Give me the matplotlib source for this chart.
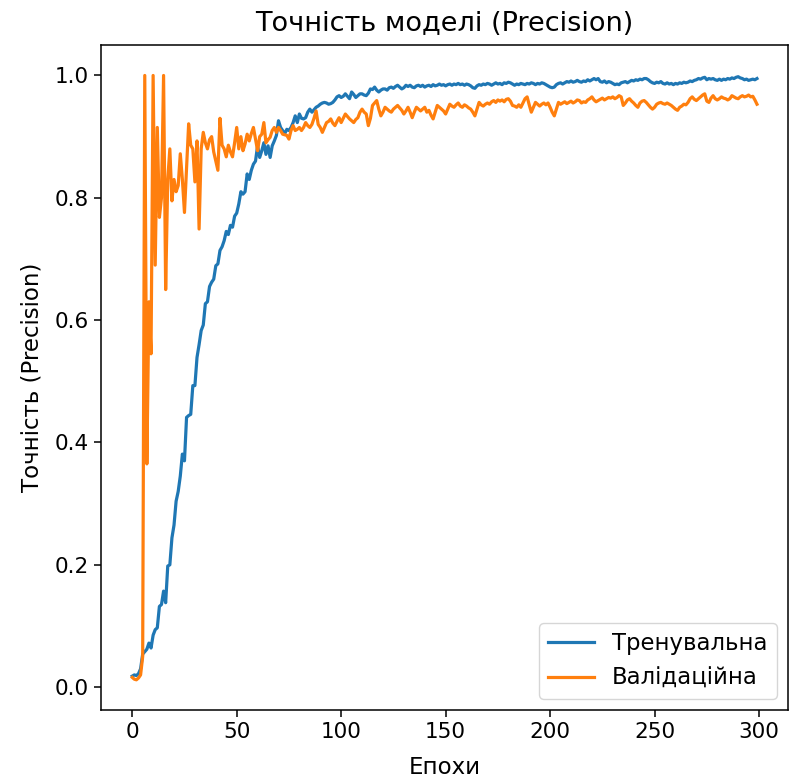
import matplotlib
matplotlib.use("Agg")
import matplotlib.pyplot as plt
import numpy as np

plt.rcParams['font.family'] = ['DejaVu Sans']

title = "Точність моделі (Precision)"
xlabel = "Епохи"
ylabel = "Точність (Precision)"
train_label = "Тренувальна"
val_label = "Валідаційна"

train_precision = [
    0.018, 0.020, 0.019, 0.022, 0.030, 0.054, 0.058, 0.062, 0.072, 0.064,
    0.085, 0.094, 0.097, 0.132, 0.135, 0.157, 0.138, 0.198, 0.200, 0.244,
    0.265, 0.304, 0.320, 0.345, 0.381, 0.370, 0.441, 0.444, 0.446, 0.493,
    0.493, 0.539, 0.560, 0.583, 0.592, 0.627, 0.630, 0.655, 0.662, 0.667,
    0.689, 0.692, 0.714, 0.720, 0.730, 0.745, 0.740, 0.755, 0.752, 0.770,
    0.775, 0.790, 0.810, 0.806, 0.810, 0.839, 0.830, 0.845, 0.855, 0.860,
    0.885, 0.866, 0.877, 0.890, 0.871, 0.885, 0.866, 0.885, 0.893, 0.902,
    0.926, 0.915, 0.910, 0.905, 0.912, 0.910, 0.915, 0.923, 0.934, 0.923,
    0.937, 0.930, 0.929, 0.931, 0.940, 0.945, 0.940, 0.944, 0.948, 0.950,
    0.953, 0.955, 0.956, 0.955, 0.953, 0.954, 0.956, 0.960, 0.965, 0.967,
    0.964, 0.966, 0.970, 0.966, 0.962, 0.973, 0.969, 0.964, 0.967, 0.970,
    0.970, 0.968, 0.967, 0.971, 0.978, 0.977, 0.981, 0.976, 0.973, 0.976,
    0.978, 0.978, 0.976, 0.980, 0.981, 0.979, 0.982, 0.984, 0.981, 0.978,
    0.980, 0.984, 0.982, 0.984, 0.981, 0.980, 0.983, 0.984, 0.982, 0.984,
    0.981, 0.983, 0.984, 0.982, 0.985, 0.983, 0.984, 0.986, 0.984, 0.985,
    0.983, 0.985, 0.986, 0.984, 0.986, 0.985, 0.987, 0.985, 0.986, 0.984,
    0.986, 0.985, 0.983, 0.980, 0.979, 0.983, 0.985, 0.984, 0.986, 0.985,
    0.987, 0.986, 0.984, 0.986, 0.988, 0.986, 0.987, 0.985, 0.988, 0.987,
    0.989, 0.988, 0.986, 0.984, 0.986, 0.985, 0.987, 0.986, 0.985, 0.987,
    0.986, 0.988, 0.987, 0.985, 0.987, 0.986, 0.988, 0.987, 0.985, 0.983,
    0.981, 0.980, 0.981, 0.985, 0.987, 0.988, 0.986, 0.988, 0.990, 0.989,
    0.991, 0.989, 0.990, 0.992, 0.990, 0.989, 0.991, 0.990, 0.993, 0.991,
    0.993, 0.995, 0.993, 0.995, 0.990, 0.989, 0.991, 0.988, 0.990, 0.989,
    0.987, 0.985, 0.986, 0.985, 0.988, 0.989, 0.990, 0.988, 0.990, 0.992,
    0.991, 0.993, 0.992, 0.994, 0.993, 0.995, 0.995, 0.993, 0.990, 0.988,
    0.987, 0.989, 0.988, 0.990, 0.987, 0.986, 0.988, 0.986, 0.987, 0.985,
    0.987, 0.986, 0.988, 0.987, 0.989, 0.988, 0.989, 0.991, 0.990, 0.992,
    0.993, 0.995, 0.994, 0.996, 0.997, 0.993, 0.995, 0.994, 0.995, 0.993,
    0.992, 0.994, 0.992, 0.994, 0.993, 0.995, 0.994, 0.996, 0.995, 0.997,
    0.998, 0.996, 0.995, 0.993, 0.994, 0.992, 0.993, 0.994, 0.993, 0.995,
]

val_precision = [
    0.016, 0.013, 0.012, 0.015, 0.020, 0.050, 1.000, 0.365, 0.630, 0.545,
    1.000, 0.690, 0.915, 0.768, 0.800, 1.000, 0.650, 0.830, 0.880, 0.795,
    0.830, 0.810, 0.820, 0.872, 0.830, 0.776, 0.850, 0.921, 0.886, 0.880,
    0.826, 0.893, 0.749, 0.880, 0.907, 0.890, 0.880, 0.895, 0.900, 0.875,
    0.860, 0.845, 0.930, 0.886, 0.880, 0.867, 0.886, 0.875, 0.867, 0.890,
    0.915, 0.880, 0.900, 0.877, 0.888, 0.904, 0.893, 0.905, 0.915, 0.896,
    0.877, 0.900, 0.904, 0.923, 0.890, 0.895, 0.899, 0.910, 0.915, 0.907,
    0.915, 0.910, 0.904, 0.903, 0.902, 0.896, 0.910, 0.918, 0.910, 0.912,
    0.915, 0.910, 0.915, 0.923, 0.918, 0.915, 0.920, 0.930, 0.942, 0.920,
    0.915, 0.907, 0.915, 0.923, 0.925, 0.929, 0.922, 0.918, 0.925, 0.931,
    0.923, 0.930, 0.937, 0.933, 0.929, 0.926, 0.923, 0.928, 0.931, 0.940,
    0.945, 0.940, 0.937, 0.918, 0.930, 0.951, 0.955, 0.959, 0.945, 0.934,
    0.940, 0.948, 0.945, 0.942, 0.940, 0.945, 0.948, 0.951, 0.947, 0.943,
    0.937, 0.942, 0.948, 0.940, 0.931, 0.940, 0.948, 0.945, 0.942, 0.945,
    0.948, 0.940, 0.943, 0.935, 0.929, 0.940, 0.951, 0.948, 0.945, 0.942,
    0.937, 0.945, 0.953, 0.950, 0.948, 0.952, 0.955, 0.950, 0.948, 0.952,
    0.950, 0.947, 0.945, 0.940, 0.934, 0.945, 0.956, 0.952, 0.950, 0.953,
    0.955, 0.953, 0.957, 0.959, 0.956, 0.960, 0.958, 0.960, 0.957, 0.961,
    0.962, 0.958, 0.951, 0.950, 0.948, 0.952, 0.948, 0.955, 0.962, 0.965,
    0.952, 0.940, 0.948, 0.956, 0.953, 0.950, 0.953, 0.955, 0.952, 0.955,
    0.948, 0.940, 0.934, 0.945, 0.956, 0.953, 0.955, 0.957, 0.954, 0.956,
    0.958, 0.955, 0.957, 0.960, 0.959, 0.955, 0.957, 0.956, 0.960, 0.962,
    0.965, 0.960, 0.957, 0.959, 0.961, 0.963, 0.960, 0.962, 0.964, 0.963,
    0.965, 0.962, 0.964, 0.967, 0.965, 0.951, 0.955, 0.960, 0.962, 0.958,
    0.955, 0.951, 0.948, 0.955, 0.958, 0.959, 0.956, 0.952, 0.948, 0.945,
    0.948, 0.953, 0.955, 0.956, 0.954, 0.953, 0.955, 0.953, 0.951, 0.948,
    0.945, 0.943, 0.948, 0.950, 0.953, 0.952, 0.956, 0.962, 0.965, 0.961,
    0.959, 0.962, 0.965, 0.968, 0.970, 0.958, 0.956, 0.963, 0.967, 0.962,
    0.960, 0.962, 0.965, 0.963, 0.962, 0.960, 0.962, 0.967, 0.965, 0.963,
    0.962, 0.965, 0.967, 0.965, 0.966, 0.968, 0.965, 0.966, 0.960, 0.953,
]

epochs = np.arange(len(train_precision))

fig = plt.figure(figsize=(7.89, 7.83), dpi=100)
ax = fig.add_axes([0.128, 0.0932, 0.871, 0.849])
ax.plot(epochs, train_precision, color='#1f77b4', lw=2.3, label=train_label)
ax.plot(epochs, val_precision, color='#ff7f0e', lw=2.3, label=val_label)
ax.set_title(title, fontsize=19.5, pad=10)
ax.set_xlabel(xlabel, fontsize=16.5, labelpad=10)
ax.set_ylabel(ylabel, fontsize=16.5, labelpad=8)
ax.tick_params(labelsize=15.5, width=1.1, length=5)
ax.set_xticks([0, 50, 100, 150, 200, 250, 300])
ax.set_yticks([0.0, 0.2, 0.4, 0.6, 0.8, 1.0])
for s in ax.spines.values():
    s.set_linewidth(1.1)
ax.legend(loc='lower right', fontsize=16.4)
fig.savefig('out.png', dpi=100)
